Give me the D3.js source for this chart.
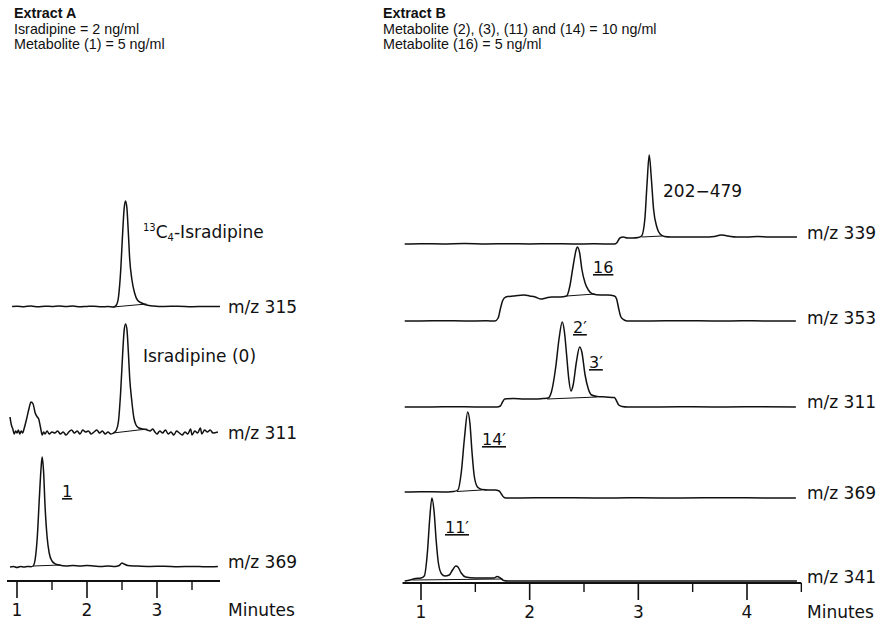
<!DOCTYPE html>
<html>
<head>
<meta charset="utf-8">
<script src="https://cdn.jsdelivr.net/npm/d3@7"></script>
<style>
  body { margin: 0; background: #fff; }
  text { font-family: "DejaVu Sans", "Liberation Sans", Arial, sans-serif; fill: #111; }
  text.title { font-family: "Liberation Sans", Arial, Helvetica, sans-serif; }
</style>
</head>
<body>
<div id="chart"></div>
<script>
// ---- data (time in minutes, signal above the trace baseline) ----
const titleA = ["Extract A", "Isradipine = 2 ng/ml", "Metabolite (1) = 5 ng/ml"];
const titleB = ["Extract B", "Metabolite (2), (3), (11) and (14) = 10 ng/ml", "Metabolite (16) = 5 ng/ml"];

const majorTicksA = [1, 2, 3];
const minorTicksA = [1.5, 2.5, 3.5];
const majorTicksB = [1, 2, 3, 4];
const minorTicksB = [1.5, 2.5, 3.5, 4.5];

const labelsA = ["m/z 315", "m/z 311", "m/z 369"];
const labelsB = ["m/z 339", "m/z 353", "m/z 311", "m/z 369", "m/z 341"];

// Extract A
const a315 = [[0.93,0.5],[1.0,0.8],[1.1,0.3],[1.2,1],[1.3,0.2],[1.4,0.8],[1.5,0.5],[1.6,1],[1.7,0.4],[1.8,0.9],
  [1.9,0.3],[2.0,0.6],[2.1,0.8],[2.2,0.2],[2.3,0.5],[2.38,0],[2.42,2],[2.45,10],[2.48,35],[2.51,75],[2.53,98],
  [2.55,106],[2.57,99],[2.59,75],[2.61,48],[2.64,28],[2.68,14],[2.72,7],[2.78,4],[2.85,2],[2.95,1],[3.1,0.5],
  [3.3,0.8],[3.5,0.3],[3.7,0.6],[3.9,0.4]];
const a311 = [[0.9,16],[0.92,8],[0.94,4],[0.96,-1],[0.98,2],[1.0,0],[1.02,3],[1.04,-1],[1.06,2],[1.08,0],[1.1,4],
  [1.13,12],[1.17,24],[1.2,31],[1.23,29],[1.26,20],[1.29,16],[1.31,14],[1.34,4],[1.36,-2],[1.38,1],[1.4,-1],
  [1.43,2],[1.46,-1],[1.5,1],[1.54,0],[1.58,2],[1.62,-1],[1.66,1],[1.7,-2],[1.74,1],[1.78,3],[1.82,0],[1.86,2],
  [1.9,-1],[1.94,3],[1.98,1],[2.02,2],[2.06,-1],[2.1,1],[2.14,3],[2.18,0],[2.22,2],[2.26,-1],[2.3,1],[2.34,-1],
  [2.38,0],[2.42,3],[2.45,12],[2.48,40],[2.51,80],[2.53,102],[2.55,109],[2.57,104],[2.59,82],[2.61,55],[2.64,32],
  [2.67,15],[2.7,8],[2.74,5],[2.8,4],[2.86,3],[2.9,2],[2.94,4],[2.97,1],[3.0,-1],[3.04,2],[3.08,0],[3.12,3],
  [3.16,-1],[3.2,1],[3.24,-2],[3.28,2],[3.32,0],[3.36,-2],[3.4,1],[3.44,-1],[3.48,4],[3.5,-2],[3.54,2],[3.58,0],
  [3.62,5],[3.64,-1],[3.68,3],[3.72,1],[3.76,3],[3.8,0],[3.87,1]];
const a369 = [[0.9,0],[0.95,0.5],[1.0,-0.5],[1.05,0.6],[1.1,0],[1.15,0.5],[1.2,0.3],[1.23,1],[1.26,8],[1.29,30],
  [1.32,70],[1.345,100],[1.36,110],[1.38,95],[1.4,62],[1.43,30],[1.46,14],[1.5,6],[1.55,3],[1.6,2],[1.7,1],
  [1.8,1.5],[1.9,1],[2.0,1.5],[2.1,1],[2.2,0.5],[2.3,1],[2.4,0.5],[2.46,1.5],[2.5,4],[2.53,3],[2.58,1.5],[2.7,1],
  [2.9,0.5],[3.1,0.8],[3.3,0.3],[3.5,0.6],[3.7,0.2],[3.87,0.5]];
// integration base lines under the peaks
const a315Base = [[2.37,0],[2.85,3]];
const a311Base = [[2.37,0],[2.86,4]];
const a369Base = [[1.23,1],[1.62,2]];

// Extract B
const b339 = [[0.85,0],[1.0,0.3],[1.2,0],[1.4,0.4],[1.6,0],[1.8,0.3],[2.0,0],[2.2,0.3],[2.4,0],[2.6,0.2],[2.78,0],
  [2.8,1],[2.83,6],[2.86,7],[2.9,6],[2.95,6],[3.0,6.5],[3.03,8],[3.06,25],[3.08,60],[3.1,89],[3.12,65],[3.14,35],
  [3.17,17],[3.2,10],[3.24,7.5],[3.3,7],[3.4,7],[3.5,7],[3.6,7],[3.7,7.5],[3.76,9],[3.8,8.5],[3.85,7.5],[3.9,7],
  [4.0,7],[4.1,7.5],[4.2,7],[4.3,7],[4.46,7]];
const b353 = [[0.85,0],[1.0,0],[1.2,0.3],[1.4,0],[1.6,0.2],[1.68,0],[1.71,3],[1.73,12],[1.75,20],[1.78,24],
  [1.85,25],[1.95,26],[2.0,25],[2.05,24],[2.1,22],[2.15,23],[2.2,24],[2.28,24],[2.34,25],[2.37,35],[2.4,55],
  [2.43,72],[2.44,74],[2.46,68],[2.48,52],[2.51,38],[2.54,31],[2.58,27],[2.65,26],[2.72,26],[2.78,25],[2.8,22],
  [2.82,12],[2.84,4],[2.87,1],[2.9,0],[3.1,0],[3.4,0.3],[3.7,0],[4.0,0.2],[4.3,0],[4.45,0]];
const b311 = [[0.85,0],[1.1,0],[1.3,0.3],[1.5,0],[1.7,0],[1.73,1],[1.75,5],[1.77,8],[1.85,8.5],[1.95,8],[2.05,8],
  [2.12,8.5],[2.17,9],[2.2,15],[2.24,40],[2.27,68],[2.3,85],[2.32,75],[2.34,52],[2.36,28],[2.38,16],[2.4,22],
  [2.43,45],[2.46,60],[2.48,55],[2.51,32],[2.54,18],[2.57,12],[2.62,10.5],[2.7,10],[2.78,9.5],[2.8,6],[2.82,2],
  [2.85,0.5],[2.9,0],[3.2,0],[3.5,0.2],[3.8,0],[4.1,0.2],[4.45,0]];
const b369 = [[0.85,6],[1.0,6.3],[1.2,6],[1.3,6.5],[1.34,8],[1.37,25],[1.4,60],[1.43,86],[1.45,75],[1.47,45],
  [1.49,22],[1.52,11],[1.56,8.5],[1.62,8],[1.68,8],[1.72,7],[1.74,4],[1.76,1],[1.78,0],[1.9,0],[2.2,0.3],[2.6,0],
  [3.0,0.2],[3.4,0],[3.8,0.3],[4.2,0],[4.45,0]];
const b341 = [[0.85,0],[0.9,1],[0.95,2.5],[1.0,3],[1.03,5],[1.06,30],[1.08,62],[1.1,83],[1.12,70],[1.14,40],
  [1.16,18],[1.19,7],[1.22,5],[1.26,6],[1.29,11],[1.32,15],[1.34,14],[1.37,8],[1.41,4],[1.5,3],[1.6,3],[1.67,3],
  [1.7,4.5],[1.73,3],[1.76,0.5],[1.8,0],[2.2,0],[2.6,0],[3.0,0],[3.4,0],[3.8,0],[4.2,0],[4.46,0]];
const b339Base = [[3.03,7],[3.22,8]];
const b353Base = [[2.34,25],[2.6,27]];
const b311Base = [[2.16,8],[2.62,10]];
const b369Base = [[1.33,6.5],[1.56,8]];
const b341Base = [[0.92,1],[1.75,2]];

// ---- layout ----
const width = 880, height = 621;
const svg = d3.select("#chart").append("svg")
  .attr("width", width).attr("height", height);

const panels = [
  {
    title: titleA, titleX: 14,
    domain: [1, 3], range: [17, 157], axisExtent: [0.857, 3.9], axisY: 581,
    major: majorTicksA, minor: minorTicksA, labelX: 228,
    traces: [
      { label: labelsA[0], data: a315, base: a315Base, y: 307, labelY: 313 },
      { label: labelsA[1], data: a311, base: a311Base, y: 433, labelY: 439 },
      { label: labelsA[2], data: a369, base: a369Base, y: 567, labelY: 568 }
    ]
  },
  {
    title: titleB, titleX: 383,
    domain: [1, 4], range: [421, 747], axisExtent: [0.83, 4.5], axisY: 583,
    major: majorTicksB, minor: minorTicksB, labelX: 807,
    traces: [
      { label: labelsB[0], data: b339, base: b339Base, y: 244, labelY: 239 },
      { label: labelsB[1], data: b353, base: b353Base, y: 321, labelY: 324 },
      { label: labelsB[2], data: b311, base: b311Base, y: 407, labelY: 408 },
      { label: labelsB[3], data: b369, base: b369Base, y: 498, labelY: 499 },
      { label: labelsB[4], data: b341, base: b341Base, y: 581, labelY: 583 }
    ]
  }
];

// one signal unit = one pixel of height
const y = d3.scaleLinear().domain([0, 100]).range([0, -100]);

panels.forEach(p => {
  const x = d3.scaleLinear().domain(p.domain).range(p.range);
  const g = svg.append("g");

  // headers
  p.title.forEach((t, i) => {
    g.append("text")
      .attr("class", "title")
      .attr("x", p.titleX).attr("y", 18 + i * 15.5)
      .attr("font-size", "14.3px")
      .attr("font-weight", i === 0 ? "bold" : "normal")
      .text(t);
  });

  const line = d3.line()
    .x(d => x(d[0]))
    .y(d => y(d[1]))
    .curve(d3.curveMonotoneX);

  p.traces.forEach(tr => {
    const tg = g.append("g").attr("transform", `translate(0,${tr.y})`);
    tg.append("path")
      .datum(tr.data)
      .attr("fill", "none")
      .attr("stroke", "#111")
      .attr("stroke-width", 1.5)
      .attr("stroke-linejoin", "round")
      .attr("d", line);
    tg.append("path")
      .datum(tr.base)
      .attr("fill", "none")
      .attr("stroke", "#111")
      .attr("stroke-width", 1)
      .attr("d", d3.line().x(d => x(d[0])).y(d => y(d[1])));
    g.append("text")
      .attr("x", p.labelX).attr("y", tr.labelY)
      .attr("font-size", "17px")
      .text(tr.label);
  });

  // time axis
  const axisG = g.append("g").attr("transform", `translate(0,${p.axisY})`);
  axisG.append("line")
    .attr("x1", x(p.axisExtent[0])).attr("x2", x(p.axisExtent[1]))
    .attr("stroke", "#111").attr("stroke-width", 2);
  axisG.selectAll(".minor").data(p.minor).join("line")
    .attr("x1", d => x(d)).attr("x2", d => x(d))
    .attr("y1", 0).attr("y2", 9)
    .attr("stroke", "#111").attr("stroke-width", 1.4);
  axisG.selectAll(".major").data(p.major).join("line")
    .attr("x1", d => x(d)).attr("x2", d => x(d))
    .attr("y1", 0).attr("y2", 17)
    .attr("stroke", "#111").attr("stroke-width", 1.6);
  axisG.selectAll(".tl").data(p.major).join("text")
    .attr("x", d => x(d)).attr("y", 35)
    .attr("text-anchor", "middle")
    .attr("font-size", "17px")
    .text(d => d);
  axisG.append("text")
    .attr("x", p.labelX).attr("y", 35)
    .attr("font-size", "17px")
    .text("Minutes");
});

// peak annotations
function peakLabel(px, py, txt, underline) {
  svg.append("text")
    .attr("x", px).attr("y", py)
    .attr("font-size", underline ? "16px" : "17px")
    .style("text-decoration", underline ? "underline" : null)
    .text(txt);
}

const c4 = svg.append("text").attr("x", 143).attr("y", 238).attr("font-size", "17px");
c4.append("tspan").attr("font-size", "10px").attr("dy", -7).text("13");
c4.append("tspan").attr("dy", 7).text("C");
c4.append("tspan").attr("font-size", "10px").attr("dy", 3).text("4");
c4.append("tspan").attr("dy", -3).text("-Isradipine");

peakLabel(143, 362, "Isradipine (0)", false);
peakLabel(62, 497, "1", true);
peakLabel(663, 197, "202\u2212479", false);
peakLabel(593, 273, "16", true);
peakLabel(573, 333, "2\u2032", true);
peakLabel(589, 368, "3\u2032", true);
peakLabel(482, 445, "14\u2032", true);
peakLabel(445, 533, "11\u2032", true);
</script>
</body>
</html>
